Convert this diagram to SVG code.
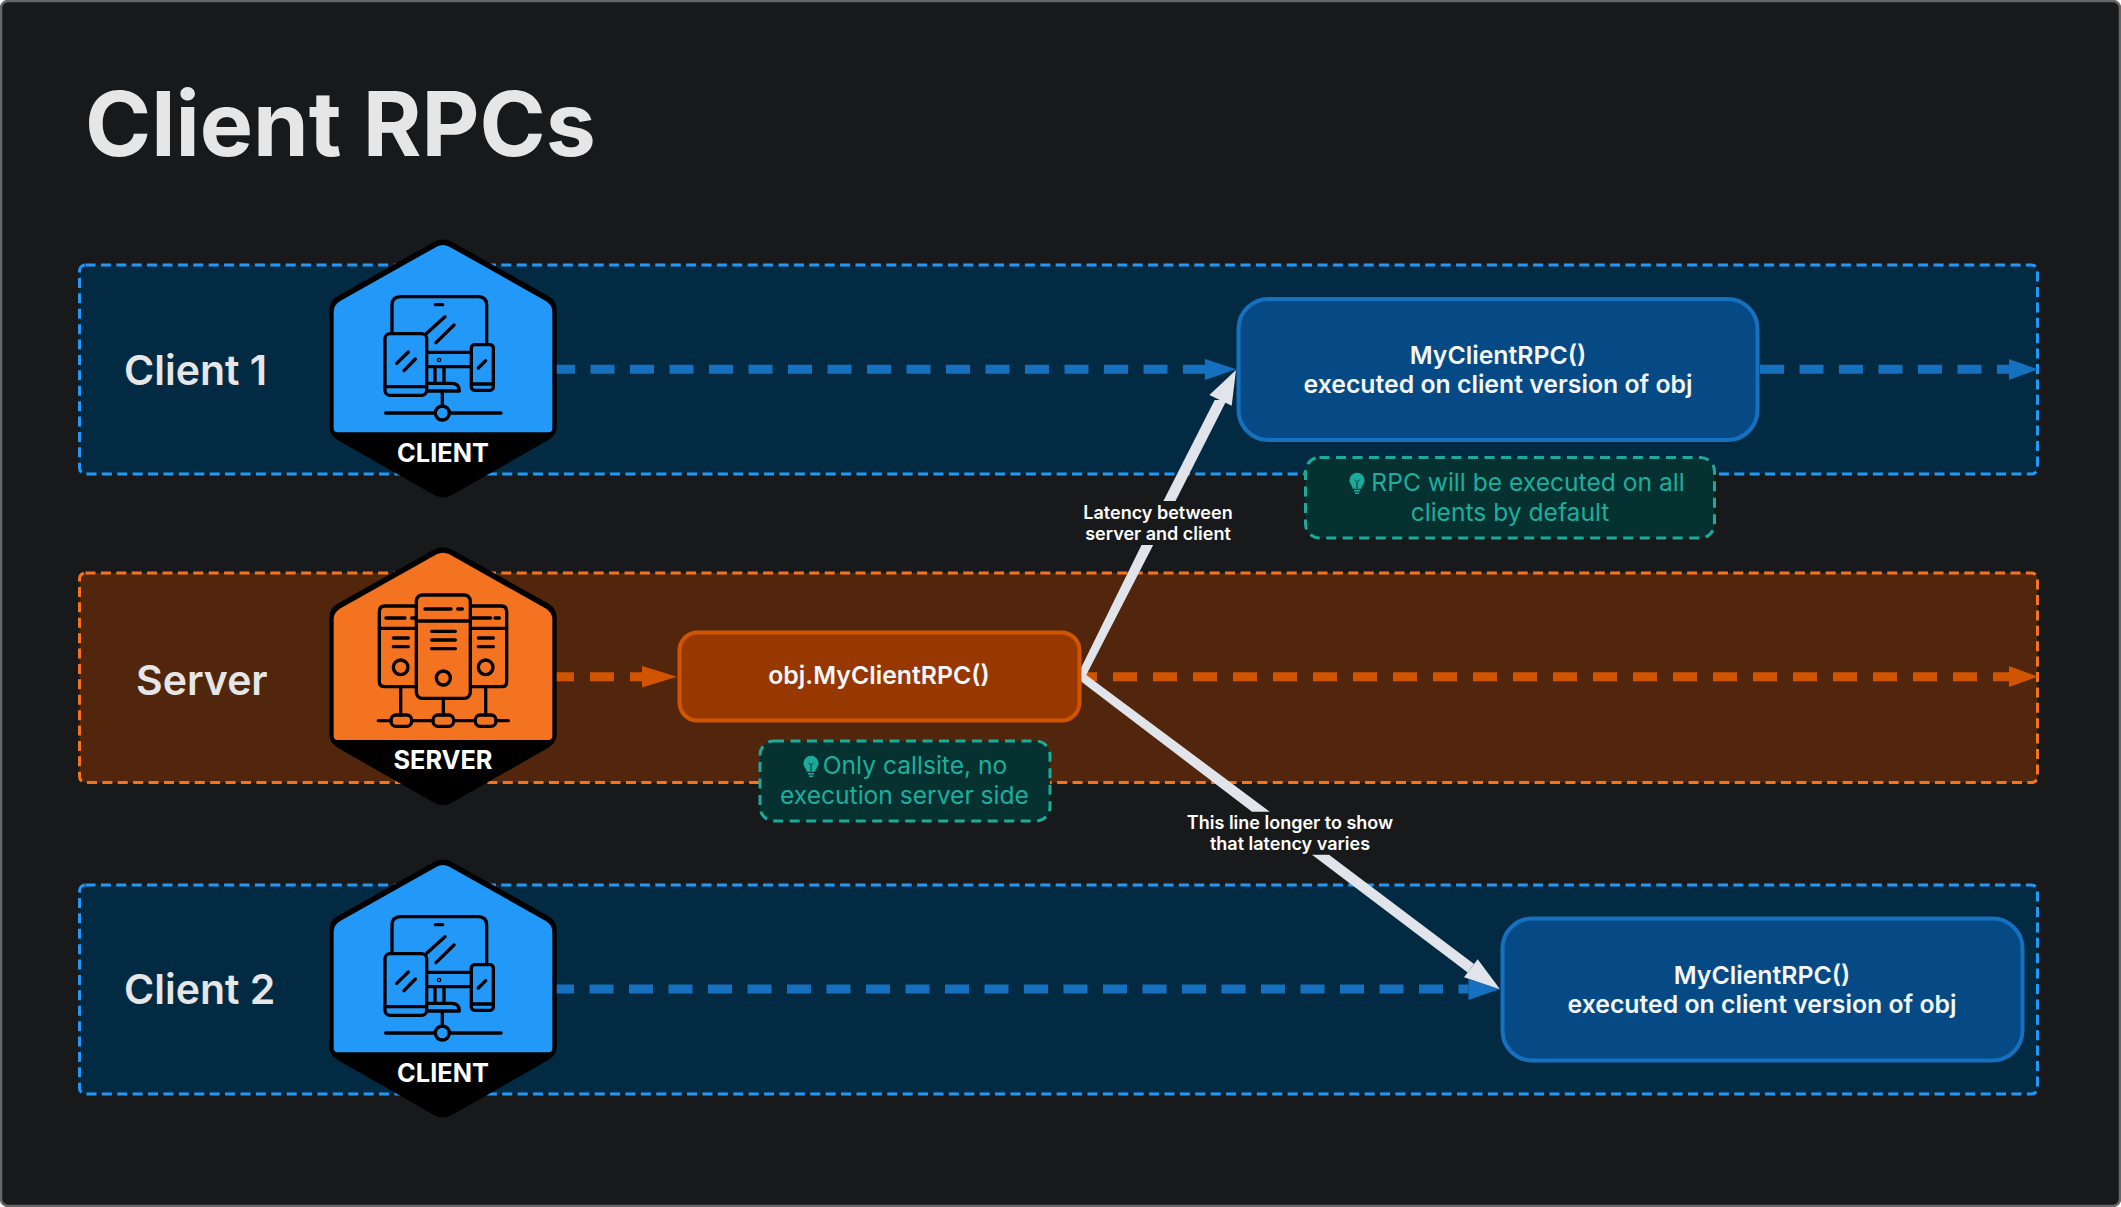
<svg xmlns="http://www.w3.org/2000/svg" width="2121" height="1207" viewBox="0 0 2121 1207">
<style>
text{font-family:Inter,"Liberation Sans",sans-serif}
.band-b{fill:#032a43;stroke:#2299f8;stroke-width:3;stroke-dasharray:10 5.4}
.band-o{fill:#52260c;stroke:#f7741f;stroke-width:3;stroke-dasharray:10 5.4}
.lane{font-size:41px;font-weight:600;fill:#e6e6e6}
.nb{fill:#054a85;stroke:#1570c0;stroke-width:4}
.no{fill:#973800;stroke:#d15400;stroke-width:4}
.nt{font-size:24.800px;font-weight:600;fill:#f4f6fa;text-anchor:middle}
.note{fill:#053230;stroke:#1aab9b;stroke-width:3;stroke-dasharray:10 6.5}
.notet{font-size:24.600px;font-weight:400;fill:#1cae9e;text-anchor:middle}
.lab{font-size:18px;font-weight:600;fill:#fff;text-anchor:middle}
.ic{fill:none;stroke:#000;stroke-width:10;stroke-linecap:round;stroke-linejoin:round}
.hext{font-size:76px;font-weight:700;fill:#fff;text-anchor:middle}
.da-b{fill:none;stroke:#1570c0;stroke-width:9;stroke-dasharray:24 15.5}
.da-o{fill:none;stroke:#d15400;stroke-width:9;stroke-dasharray:24 16}
.hb{fill:#1570c0}.ho{fill:#d15400}
.wa{fill:#e1e4ea}
.title{font-size:89.500px;font-weight:700;fill:#e6e6e6}
</style>
<defs>
<g id="hexbase">
<path d="M375,41Q399,28 423,41L712,203Q734,215 734,240V590Q734,612 712,625L423,790Q399,803 375,790L86,625Q64,612 64,590V240Q64,215 86,203Z" fill="#000" stroke="#000" stroke-width="12" stroke-linejoin="round"/>
</g>
<path id="hextop" d="M380,50Q399,40 418,50L706,212Q727,224 727,245V595Q727,607 715,607H83Q71,607 71,595V245Q71,224 92,212Z"/>
<g id="clienticon" class="ic">
<path d="M246,305V225Q246,200 272,200H505Q530,200 530,225V342"/>
<path d="M376,224H398M350,310L405,260M378,338L432,285M352,367H482M352,410H482M375,415V458M402,415V458"/>
<circle cx="387" cy="390" r="2"/>
<path d="M352,460H425Q448,460 448,483H355"/>
<rect x="225" y="311" width="125" height="185" rx="15"/>
<path d="M225,470H350M260,400L295,366M282,422L316,387"/>
<rect x="484" y="344" width="66" height="137" rx="10"/>
<path d="M484,462H550M505,414L527,392M397,483V528M227,549H375M419,549H573"/>
<circle cx="397" cy="549" r="21"/>
</g>
<g id="servericon" class="ic">
<path d="M318,198H225Q208,198 208,215V425Q208,440 225,440H318M208,265H318M228,234H285M305,234H318M250,294H295M250,320H295"/>
<circle cx="272" cy="382" r="22"/>
<path d="M482,198H575Q590,198 590,215V425Q590,440 575,440H482M482,265H590M482,234H542M555,234H568M505,294H550M505,320H550"/>
<circle cx="527" cy="382" r="22"/>
<rect x="319" y="165" width="162" height="310" rx="18"/>
<path d="M319,243H481M345,207H423M443,207H457M365,274H436M365,300H436M365,326H436"/>
<circle cx="400" cy="414" r="21"/>
<path d="M272,440V525M400,475V525M527,440V525"/>
<rect x="243" y="525" width="62" height="34" rx="15"/>
<rect x="369" y="525" width="62" height="34" rx="15"/>
<rect x="496" y="525" width="62" height="34" rx="15"/>
<path d="M205,542H243M305,542H369M431,542H496M558,542H595"/>
</g>
<g id="bulb">
<path d="M0,0a7.6,7.6 0 0 1 7.6,7.6c0,3.6 -3,5 -3.3,8.4h-8.6c-.3,-3.4 -3.3,-4.8 -3.3,-8.4a7.6,7.6 0 0 1 7.6,-7.6z" fill="#1aab9b"/>
<path d="M-3,18h6M-2,20.500h4" stroke="#1aab9b" stroke-width="1.600" fill="none"/>
<path d="M-2.500,7l2.500,2.500 2.500,-2.500M0,9.500v6" stroke="#053230" stroke-width="1" fill="none"/>
</g>
</defs>
<rect id="background" x="1" y="1" width="2119" height="1205" rx="7" fill="#18191b" stroke="#666" stroke-width="2.500"/>
<text id="title" class="title" x="85" y="155.500">Client RPCs</text>
<g id="bands">
<g id="band-client-1"><rect class="band-b" x="79.500" y="265" width="1958" height="209" rx="6"/><text class="lane" x="124" y="385">Client 1</text></g>
<g id="band-server"><rect class="band-o" x="79.500" y="573" width="1958" height="209.500" rx="6"/><text class="lane" x="136" y="695">Server</text></g>
<g id="band-client-2"><rect class="band-b" x="79.500" y="885" width="1958" height="209" rx="6"/><text class="lane" x="124" y="1004">Client 2</text></g>
</g>
<g id="connectors">
<path class="da-b" d="M551,369.300H1205"/><polygon class="hb" points="1205,359 1236,369.300 1205,380"/>
<path class="da-b" d="M1760,369.300H2009"/><polygon class="hb" points="2009,359 2038,369.300 2009,380"/>
<path class="da-o" d="M550,676.700H642"/><polygon class="ho" points="642,666 677,676.700 642,687.500"/>
<path class="da-o" d="M1073,676.700H2009"/><polygon class="ho" points="2009,666 2038,676.700 2009,687"/>
<path class="da-b" d="M550,989H1468.500"/><polygon class="hb" points="1468.500,979 1500,989 1468.500,1000"/>
<polygon class="wa" points="1080,670 1141.500,545 1153.200,545 1086.300,675 1269.800,811.700 1252,811.700 1081.400,681.700"/>
<polygon class="wa" points="1163.400,501 1175.500,501 1226.700,400 1214.700,400"/>
<polygon class="wa" points="1236,370 1209.400,395 1231.700,405.700"/>
<polygon class="wa" points="1312,854.700 1329,854.700 1474,964 1467.700,972.500"/>
<polygon class="wa" points="1500,989.300 1477.700,959.300 1464,977.300"/>
<text class="lab" x="1158" y="519">Latency between</text><text class="lab" x="1158" y="540">server and client</text>
<text class="lab" x="1290" y="829">This line longer to show</text><text class="lab" x="1290" y="849.500">that latency varies</text>
</g>
<g id="hex-client-1" transform="translate(310 230) scale(.33333)"><use href="#hexbase"/><use href="#hextop" fill="#2299f8"/><use href="#clienticon"/><text class="hext" x="399" y="695">CLIENT</text></g>
<g id="hex-server" transform="translate(310 537.670) scale(.33333)"><use href="#hexbase"/><use href="#hextop" fill="#f47321"/><use href="#servericon" y="7"/><text class="hext" x="399" y="695">SERVER</text></g>
<g id="hex-client-2" transform="translate(310 850) scale(.33333)"><use href="#hexbase"/><use href="#hextop" fill="#2299f8"/><use href="#clienticon"/><text class="hext" x="399" y="695">CLIENT</text></g>
<g id="node-client-1"><rect class="nb" x="1238.500" y="299" width="519" height="141" rx="30"/><text class="nt" x="1498" y="364">MyClientRPC()</text><text class="nt" x="1498" y="393">executed on client version of obj</text></g>
<g id="node-client-2"><rect class="nb" x="1502.500" y="918.500" width="520" height="142" rx="30"/><text class="nt" x="1762" y="983.500">MyClientRPC()</text><text class="nt" x="1762" y="1012.500">executed on client version of obj</text></g>
<g id="node-server"><rect class="no" x="679.500" y="632.500" width="400" height="88" rx="18"/><text class="nt" x="879" y="684">obj.MyClientRPC()</text></g>
<g id="note-client"><rect class="note" x="1305.500" y="457.500" width="409" height="80.500" rx="14"/><use href="#bulb" x="1357" y="472.700"/><text class="notet" x="1528" y="491">RPC will be executed on all</text><text class="notet" x="1510" y="520.500">clients by default</text></g>
<g id="note-server"><rect class="note" x="760" y="741" width="290" height="80" rx="14"/><use href="#bulb" x="811" y="755.700"/><text class="notet" x="915" y="774">Only callsite, no</text><text class="notet" x="904.500" y="803.500">execution server side</text></g>
</svg>
